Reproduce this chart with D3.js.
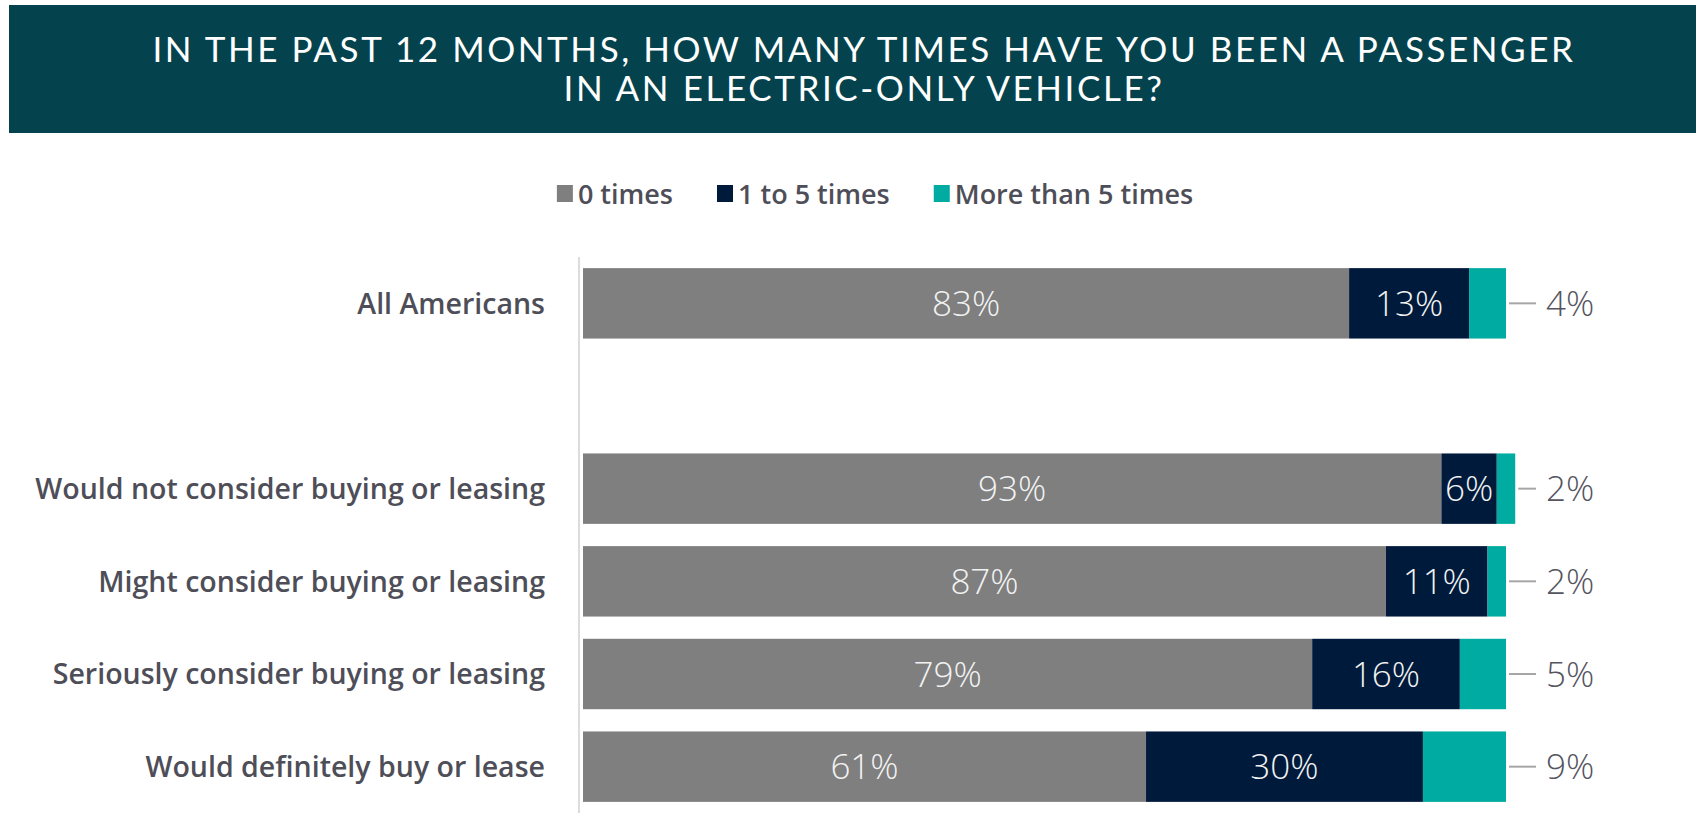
<!DOCTYPE html>
<html>
<meta charset="utf-8">
<style>
  body {
    margin: 0;
    background-color: #fff;
  }
  text {
    font-family: Lato, 'Open Sans', sans-serif;
  }
  .title {
    fill: #fff;
    font-size: 35px;
  }
  .cat, .legend text {
    font-family: 'Open Sans', Lato, sans-serif;
    fill: #4e4e58;
    font-weight: 600;
  }
  .val {
    font-family: 'Open Sans', sans-serif;
    font-weight: 300;
    font-size: 35px;
  }
</style>
<body>
<script src="https://cdn.jsdelivr.net/npm/d3@7"></script>
<script>

// chart data
var titleLines = [
  'IN THE PAST 12 MONTHS, HOW MANY TIMES HAVE YOU BEEN A PASSENGER',
  'IN AN ELECTRIC-ONLY VEHICLE?'
];
// '' is the empty slot between "All Americans" and the rest
var categories = [
  'All Americans',
  '',
  'Would not consider buying or leasing',
  'Might consider buying or leasing',
  'Seriously consider buying or leasing',
  'Would definitely buy or lease'
];
var seriesNames = ['0 times', '1 to 5 times', 'More than 5 times'];
var seriesColors = ['#7f7f7f', '#001a3b', '#00aba1'];
var zeroTimes = [83, null, 93, 87, 79, 61];
var oneToFive = [13, null, 6, 11, 16, 30];
var moreThanFive = [4, null, 2, 2, 5, 9];

var width = 1696;
var height = 833;

var svg = d3
  .select('body')
  .append('svg')
  .attr('width', width)
  .attr('height', height);

// header band
svg
  .append('rect')
  .attr('x', 9)
  .attr('y', 5)
  .attr('width', width - 9)
  .attr('height', 128)
  .style('fill', '#04434d');

var title = svg
  .selectAll('.title')
  .data(titleLines)
  .enter()
  .append('text')
  .attr('class', 'title')
  .attr('x', 864)
  .attr('y', function(d, i) {
    return 62 + i * 39;
  })
  .attr('text-anchor', 'middle')
  .text(function(d) {
    return d;
  });

// spread the letters so the first line is as wide as in the original
var tw = title.nodes()[0].getComputedTextLength();
var ls = (1423 - tw) / titleLines[0].length;
title.style('letter-spacing', ls + 'px');

// rows for the stack (the blank slot has no bar)
var rows = [];
categories.forEach(function(c, i) {
  if (zeroTimes[i] == null) return;
  var r = { cat: c };
  r[seriesNames[0]] = zeroTimes[i];
  r[seriesNames[1]] = oneToFive[i];
  r[seriesNames[2]] = moreThanFive[i];
  rows.push(r);
});

var stacked = d3.stack().keys(seriesNames)(rows);

var x = d3
  .scaleLinear()
  .domain([0, 100])
  .range([583, 1506]);

var y = d3
  .scaleBand()
  .domain(categories)
  .range([257, 813])
  .paddingInner(0.24)
  .paddingOuter(0.12);

var color = d3
  .scaleOrdinal()
  .domain(seriesNames)
  .range(seriesColors);

// axis line on the left
svg
  .append('line')
  .attr('x1', x(0) - 4)
  .attr('x2', x(0) - 4)
  .attr('y1', y.range()[0])
  .attr('y2', y.range()[1])
  .style('stroke', '#dcdcdc')
  .style('stroke-width', 2);

var layer = svg
  .selectAll('.layer')
  .data(stacked)
  .enter()
  .append('g')
  .attr('class', 'layer')
  .style('fill', function(d) {
    return color(d.key);
  });

layer
  .selectAll('rect')
  .data(function(d) {
    return d;
  })
  .enter()
  .append('rect')
  .attr('x', function(d) {
    return x(d[0]);
  })
  .attr('y', function(d) {
    return y(d.data.cat);
  })
  .attr('width', function(d) {
    return x(d[1]) - x(d[0]);
  })
  .attr('height', y.bandwidth());

// labels inside the first two segments
stacked.slice(0, 2).forEach(function(s) {
  svg
    .append('g')
    .selectAll('text')
    .data(s)
    .enter()
    .append('text')
    .attr('class', 'val')
    .attr('x', function(d) {
      return (x(d[0]) + x(d[1])) / 2;
    })
    .attr('y', function(d) {
      return y(d.data.cat) + y.bandwidth() / 2;
    })
    .attr('dy', '0.36em')
    .attr('text-anchor', 'middle')
    .style('fill', '#f2f2f2')
    .text(function(d) {
      return d[1] - d[0] + '%';
    });
});

// last segment gets a leader line and a label outside
var last = stacked[2];
var outside = svg
  .append('g')
  .selectAll('g')
  .data(last)
  .enter()
  .append('g')
  .attr('transform', function(d) {
    return 'translate(0,' + (y(d.data.cat) + y.bandwidth() / 2) + ')';
  });

outside
  .append('line')
  .attr('x1', function(d) {
    return x(d[1]) + 3;
  })
  .attr('x2', x(100) + 30)
  .style('stroke', '#a6a6a6')
  .style('stroke-width', 2);

outside
  .append('text')
  .attr('class', 'val')
  .attr('x', x(100) + 40)
  .attr('dy', '0.36em')
  .style('fill', '#55555f')
  .text(function(d) {
    return d[1] - d[0] + '%';
  });

// category labels
var cats = svg
  .append('g')
  .selectAll('text')
  .data(categories.filter(function(c) {
    return c !== '';
  }))
  .enter()
  .append('text')
  .attr('class', 'cat')
  .attr('x', 545)
  .attr('y', function(d) {
    return y(d) + y.bandwidth() / 2;
  })
  .attr('dy', '0.36em')
  .attr('text-anchor', 'end')
  .style('font-size', '26px')
  .text(function(d) {
    return d;
  });

// longest label should span about 510px like in the original
var longest = d3.max(cats.nodes(), function(n) {
  return n.getComputedTextLength();
});
cats.style('font-size', Math.min(29, (26 * 510) / longest) + 'px');

// legend, laid out left to right then centred
var legend = svg.append('g').attr('class', 'legend');
var lx = 0;
seriesNames.forEach(function(name) {
  var g = legend.append('g').attr('transform', 'translate(' + lx + ',0)');
  g.append('rect')
    .attr('y', -9)
    .attr('width', 16)
    .attr('height', 17)
    .style('fill', color(name));
  var t = g
    .append('text')
    .attr('x', 21)
    .attr('dy', '0.36em')
    .style('font-size', '27px')
    .text(name);
  lx += 21 + t.node().getComputedTextLength() + 44;
});
var legendWidth = lx - 44;
legend.attr('transform', 'translate(' + (875 - legendWidth / 2) + ',194)');

</script>
</body>
</html>
